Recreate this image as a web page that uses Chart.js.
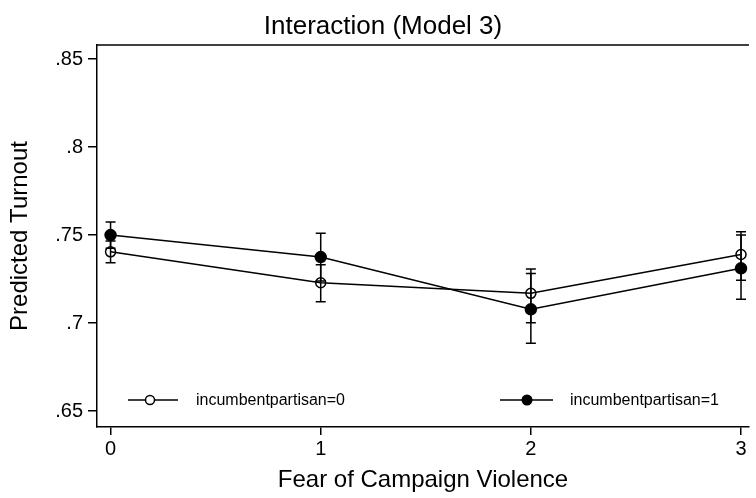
<!DOCTYPE html>
<html>
<head>
<meta charset="utf-8">
<script src="https://cdn.jsdelivr.net/npm/chart.js@4.4.1/dist/chart.umd.min.js"></script>
<style>
  html, body { margin: 0; padding: 0; background: #fff; }
</style>
</head>
<body>
<canvas id="myChart" width="756" height="498"></canvas>
<script>
'use strict'

const fear = [0, 1, 2, 3];
const yTicks = [0.65, 0.7, 0.75, 0.8, 0.85];

// incumbentpartisan=0 (hollow markers)
const turnout0 = [0.7405, 0.7229, 0.7169, 0.7390];
const lower0 = [0.7343, 0.7121, 0.7002, 0.7244];
const upper0 = [0.7467, 0.7331, 0.7307, 0.7519];

// incumbentpartisan=1 (filled markers)
const turnout1 = [0.7500, 0.7375, 0.7078, 0.7311];
const lower1 = [0.7426, 0.7239, 0.6885, 0.7135];
const upper1 = [0.7574, 0.7511, 0.7282, 0.7500];

const FONT = '"Liberation Sans", Arial, Helvetica, sans-serif';

function points(ys) {
  return fear.map((x, i) => ({ x: x, y: ys[i] }));
}

const errorBars = {
  id: 'errorBars',
  beforeDatasetsDraw(chart) {
    const ctx = chart.ctx;
    const xs = chart.scales.x, ys = chart.scales.y;
    const bands = [[lower0, upper0], [lower1, upper1]];
    ctx.save();
    ctx.strokeStyle = '#000';
    ctx.lineWidth = 1.5;
    bands.forEach(([lo, hi]) => {
      fear.forEach((f, i) => {
        const px = xs.getPixelForValue(f);
        const y1 = ys.getPixelForValue(lo[i]);
        const y2 = ys.getPixelForValue(hi[i]);
        ctx.beginPath();
        ctx.moveTo(px, y1); ctx.lineTo(px, y2);
        ctx.moveTo(px - 5, y1); ctx.lineTo(px + 5, y1);
        ctx.moveTo(px - 5, y2); ctx.lineTo(px + 5, y2);
        ctx.stroke();
      });
    });
    ctx.restore();
  }
};

const frame = {
  id: 'frame',
  afterDraw(chart) {
    const ctx = chart.ctx;
    const a = chart.chartArea;
    ctx.save();
    ctx.strokeStyle = '#000';
    ctx.lineWidth = 1.5;
    ctx.beginPath();
    ctx.moveTo(a.left, a.top); ctx.lineTo(a.right, a.top);
    ctx.stroke();

    // title
    ctx.fillStyle = '#000';
    ctx.font = '26px ' + FONT;
    ctx.textAlign = 'center';
    ctx.textBaseline = 'middle';
    ctx.fillText('Interaction (Model 3)', 383, 27);

    // legend inside plot
    const items = [
      { x0: 128, x1: 178, m: 150, tx: 196, fill: false, text: 'incumbentpartisan=0' },
      { x0: 500, x1: 553, m: 527, tx: 570, fill: true, text: 'incumbentpartisan=1' }
    ];
    const ly = 400;
    ctx.font = '16px ' + FONT;
    ctx.textAlign = 'left';
    items.forEach(it => {
      ctx.beginPath();
      ctx.moveTo(it.x0, ly); ctx.lineTo(it.x1, ly);
      ctx.stroke();
      ctx.beginPath();
      ctx.arc(it.m, ly, it.fill ? 5.5 : 4.5, 0, Math.PI * 2);
      if (it.fill) { ctx.fill(); } else { ctx.fillStyle = '#fff'; ctx.fill(); ctx.fillStyle = '#000'; ctx.stroke(); }
      ctx.fillText(it.text, it.tx, ly + 1);
    });
    ctx.restore();
  }
};

const config = {
  type: 'line',
  data: {
    datasets: [
      {
        label: 'incumbentpartisan=0',
        data: points(turnout0),
        borderColor: '#000',
        borderWidth: 1.5,
        backgroundColor: 'rgba(0,0,0,0)',
        pointBorderColor: '#000',
        pointBackgroundColor: 'rgba(0,0,0,0)',
        pointBorderWidth: 1.5,
        pointRadius: 5,
        tension: 0
      },
      {
        label: 'incumbentpartisan=1',
        data: points(turnout1),
        borderColor: '#000',
        borderWidth: 1.5,
        backgroundColor: '#000',
        pointBorderColor: '#000',
        pointBackgroundColor: '#000',
        pointRadius: 5.5,
        tension: 0
      }
    ]
  },
  options: {
    responsive: false,
    animation: false,
    events: [],
    layout: { padding: { top: 45, right: 0, left: 0, bottom: 0 } },
    plugins: {
      legend: { display: false },
      title: { display: false },
      tooltip: { enabled: false }
    },
    scales: {
      x: {
        type: 'linear',
        min: -0.0645,
        max: 3.038,
        afterBuildTicks: s => { s.ticks = fear.map(v => ({ value: v })); },
        afterFit: s => { s.height = 71; },
        ticks: {
          color: '#000',
          font: { family: FONT, size: 20 },
          padding: 2,
          maxRotation: 0,
          callback: v => String(v)
        },
        grid: { drawOnChartArea: false, drawTicks: true, tickLength: 8, color: '#000', lineWidth: 1.5 },
        border: { display: true, color: '#000', width: 1.5 },
        title: {
          display: true,
          text: 'Fear of Campaign Violence',
          color: '#000',
          font: { family: FONT, size: 24 },
          padding: { top: 2, bottom: 3 }
        }
      },
      y: {
        type: 'linear',
        min: 0.6409,
        max: 0.8581,
        afterBuildTicks: s => { s.ticks = yTicks.map(v => ({ value: v })); },
        afterFit: s => { s.width = 97; },
        ticks: {
          color: '#000',
          font: { family: FONT, size: 20 },
          padding: 5,
          callback: v => String(Math.round(v * 100) / 100).replace(/^0/, '')
        },
        grid: { drawOnChartArea: false, drawTicks: true, tickLength: 9, color: '#000', lineWidth: 1.5 },
        border: { display: true, color: '#000', width: 1.5 },
        title: {
          display: true,
          text: 'Predicted Turnout',
          color: '#000',
          font: { family: FONT, size: 24 },
          padding: { top: 6, bottom: 0 }
        }
      }
    }
  },
  plugins: [errorBars, frame]
};

const myChart = new Chart(document.getElementById('myChart'), config);
</script>
</body>
</html>
